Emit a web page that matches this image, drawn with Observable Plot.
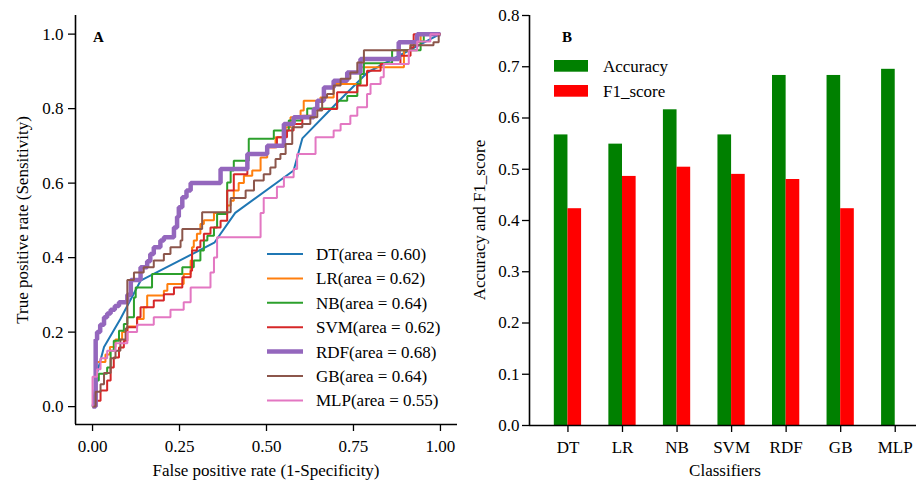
<!DOCTYPE html>
<html>
<head>
<meta charset="utf-8">
<script src="https://cdn.jsdelivr.net/npm/d3@7"></script>
<script src="https://cdn.jsdelivr.net/npm/@observablehq/plot@0.6"></script>
<style>
  html, body { margin: 0; padding: 0; background: white; }
  #wrap { position: relative; width: 916px; height: 482px; overflow: hidden; background: white; }
  #wrap > div, #wrap > svg { position: absolute; top: 0; }
  text { font-family: "Liberation Serif", "Times New Roman", serif; }
</style>
</head>
<body>
<div id="wrap"></div>
<script>
// ---------- Data ----------
const classifiers = ["DT", "LR", "NB", "SVM", "RDF", "GB", "MLP"];
const aucLabels = ["0.60", "0.62", "0.64", "0.62", "0.68", "0.64", "0.55"];
const accuracy = [0.567, 0.549, 0.616, 0.567, 0.683, 0.683, 0.695];
const f1Score = [0.423, 0.486, 0.504, 0.490, 0.480, 0.423, 0];

const rocTicksX = [0, 0.25, 0.5, 0.75, 1];
const rocTicksY = [0, 0.2, 0.4, 0.6, 0.8, 1.0];
const barTicksY = [0, 0.1, 0.2, 0.3, 0.4, 0.5, 0.6, 0.7, 0.8];

// ROC curves (false positive rate, true positive rate)
const dtFpr = [0, 0.013, 0.033, 0.08, 0.138, 0.25, 0.35, 0.41, 0.578, 0.603, 0.70, 0.79, 0.99, 1];
const dtTpr = [0, 0.09, 0.16, 0.235, 0.338, 0.392, 0.44, 0.52, 0.634, 0.72, 0.813, 0.897, 0.996, 1];

const lrFpr = [0, 0.009, 0.037, 0.05, 0.066, 0.085, 0.1, 0.128, 0.147, 0.157, 0.205, 0.215, 0.262, 0.282, 0.286, 0.291, 0.3, 0.31, 0.32, 0.349, 0.387, 0.397, 0.406, 0.42, 0.435, 0.459, 0.483, 0.502, 0.526, 0.555, 0.569, 0.598, 0.607, 0.655, 0.693, 0.77, 0.895, 0.914, 0.943, 1];
const lrTpr = [0, 0.12, 0.14, 0.16, 0.18, 0.2, 0.215, 0.235, 0.267, 0.298, 0.311, 0.329, 0.356, 0.392, 0.428, 0.446, 0.464, 0.49, 0.5, 0.52, 0.54, 0.553, 0.58, 0.6, 0.62, 0.634, 0.669, 0.696, 0.723, 0.75, 0.777, 0.795, 0.821, 0.83, 0.866, 0.911, 0.956, 0.978, 1.0, 1];

const nbFpr = [0, 0.009, 0.018, 0.042, 0.052, 0.061, 0.076, 0.09, 0.1, 0.119, 0.124, 0.171, 0.258, 0.291, 0.31, 0.32, 0.33, 0.349, 0.358, 0.387, 0.397, 0.406, 0.449, 0.521, 0.564, 0.6, 0.617, 0.703, 0.732, 0.761, 0.77, 0.78, 0.861, 0.943, 0.952, 1];
const nbTpr = [0, 0.07, 0.088, 0.105, 0.15, 0.177, 0.204, 0.222, 0.24, 0.293, 0.32, 0.356, 0.374, 0.392, 0.419, 0.446, 0.459, 0.481, 0.517, 0.602, 0.634, 0.66, 0.719, 0.741, 0.768, 0.78, 0.8, 0.821, 0.834, 0.866, 0.893, 0.922, 0.957, 0.98, 1.0, 1];

const svmFpr = [0, 0.009, 0.023, 0.042, 0.052, 0.061, 0.076, 0.09, 0.1, 0.128, 0.138, 0.176, 0.205, 0.234, 0.258, 0.282, 0.286, 0.3, 0.31, 0.32, 0.339, 0.368, 0.387, 0.406, 0.445, 0.502, 0.53, 0.559, 0.578, 0.603, 0.636, 0.703, 0.761, 0.789, 0.828, 0.885, 0.914, 0.923, 1];
const svmTpr = [0, 0.016, 0.043, 0.07, 0.105, 0.132, 0.159, 0.177, 0.213, 0.24, 0.267, 0.285, 0.302, 0.32, 0.347, 0.365, 0.419, 0.428, 0.446, 0.464, 0.481, 0.499, 0.58, 0.624, 0.678, 0.696, 0.723, 0.741, 0.759, 0.781, 0.799, 0.844, 0.862, 0.902, 0.92, 0.942, 0.964, 1.0, 1];

const rdfFpr = [0, 0.009, 0.013, 0.022, 0.033, 0.042, 0.052, 0.064, 0.076, 0.1, 0.11, 0.138, 0.157, 0.166, 0.176, 0.195, 0.205, 0.234, 0.243, 0.248, 0.258, 0.27, 0.282, 0.368, 0.445, 0.502, 0.55, 0.578, 0.636, 0.646, 0.665, 0.693, 0.732, 0.77, 0.88, 0.933, 1];
const rdfTpr = [0, 0.18, 0.2, 0.22, 0.24, 0.25, 0.26, 0.27, 0.28, 0.3, 0.34, 0.374, 0.39, 0.41, 0.428, 0.446, 0.455, 0.481, 0.51, 0.535, 0.562, 0.58, 0.6, 0.638, 0.678, 0.7, 0.759, 0.777, 0.799, 0.821, 0.857, 0.875, 0.897, 0.933, 0.978, 1.0, 1];

const gbFpr = [0, 0.009, 0.023, 0.033, 0.052, 0.066, 0.08, 0.095, 0.1, 0.119, 0.147, 0.176, 0.205, 0.224, 0.253, 0.258, 0.315, 0.397, 0.44, 0.464, 0.492, 0.511, 0.526, 0.54, 0.555, 0.574, 0.603, 0.626, 0.646, 0.66, 0.674, 0.693, 0.713, 0.741, 0.761, 0.78, 0.914, 0.98, 0.995, 1];
const gbTpr = [0, 0.04, 0.06, 0.09, 0.13, 0.15, 0.18, 0.21, 0.34, 0.36, 0.374, 0.392, 0.41, 0.428, 0.446, 0.477, 0.522, 0.56, 0.58, 0.607, 0.624, 0.642, 0.665, 0.678, 0.705, 0.75, 0.759, 0.777, 0.795, 0.83, 0.839, 0.862, 0.88, 0.897, 0.924, 0.957, 0.97, 0.978, 1.0, 1];

const mlpFpr = [0, 0, 0.013, 0.023, 0.042, 0.066, 0.1, 0.128, 0.176, 0.224, 0.262, 0.282, 0.339, 0.349, 0.358, 0.483, 0.492, 0.53, 0.55, 0.578, 0.588, 0.641, 0.693, 0.713, 0.741, 0.761, 0.789, 0.799, 0.828, 0.837, 0.909, 0.933, 0.971, 1];
const mlpTpr = [0, 0.08, 0.1, 0.13, 0.15, 0.17, 0.2, 0.22, 0.24, 0.26, 0.28, 0.32, 0.36, 0.4, 0.455, 0.52, 0.56, 0.59, 0.616, 0.638, 0.678, 0.723, 0.741, 0.759, 0.781, 0.804, 0.839, 0.866, 0.884, 0.92, 0.956, 0.98, 1.0, 1];

// ---------- Build tables ----------
const rocSeries = [
  {name: "DT",  fpr: dtFpr,  tpr: dtTpr,  color: "#1f77b4", width: 2,   curve: "linear"},
  {name: "LR",  fpr: lrFpr,  tpr: lrTpr,  color: "#ff7f0e", width: 2,   curve: "step-after"},
  {name: "NB",  fpr: nbFpr,  tpr: nbTpr,  color: "#2ca02c", width: 2,   curve: "step-after"},
  {name: "SVM", fpr: svmFpr, tpr: svmTpr, color: "#d62728", width: 2,   curve: "step-after"},
  {name: "RDF", fpr: rdfFpr, tpr: rdfTpr, color: "#9467bd", width: 4.5, curve: "step-after"},
  {name: "GB",  fpr: gbFpr,  tpr: gbTpr,  color: "#8c564b", width: 2,   curve: "step-after"},
  {name: "MLP", fpr: mlpFpr, tpr: mlpTpr, color: "#e377c2", width: 2,   curve: "step-after"}
];
const toRows = s => s.fpr.map((x, i) => ({x, y: s.tpr[i]}));

const font = '"Liberation Serif", "Times New Roman", serif';
const baseStyle = {fontFamily: font, fontSize: "17px", color: "black", background: "white", overflow: "visible"};

// ---------- Panel A ----------
const xDomA = [-0.049, 1.049];
const yDomA = [-0.048, 1.05];
const plotA = Plot.plot({
  width: 460, height: 482,
  marginLeft: 75, marginTop: 15, marginBottom: 58, marginRight: 3,
  x: {domain: xDomA},
  y: {domain: yDomA},
  style: baseStyle,
  marks: [
    Plot.axisX({ticks: rocTicksX, tickFormat: d3.format(".2f"), tickSize: 7, tickPadding: 8, label: null, strokeWidth: 1.3}),
    Plot.axisY({ticks: rocTicksY, tickFormat: d3.format(".1f"), tickSize: 7, tickPadding: 5, label: null, strokeWidth: 1.3}),
    ...rocSeries.map(s => Plot.line(toRows(s), {x: "x", y: "y", stroke: s.color, strokeWidth: s.width, curve: s.curve, strokeLinejoin: "miter", strokeLinecap: "butt"})),
    Plot.ruleX([xDomA[0]], {strokeWidth: 1.6}),
    Plot.ruleY([yDomA[0]], {strokeWidth: 1.6})
  ]
});
plotA.style.left = "0px";
document.getElementById("wrap").appendChild(plotA);

// ---------- Panel B ----------
const xDomB = [-0.705, 6.39];
const yDomB = [0, 0.8];
const barW = 0.25;
const accRows = classifiers.map((c, i) => ({i, v: accuracy[i]}));
const f1Rows = classifiers.map((c, i) => ({i, v: f1Score[i]})).filter(d => d.v > 0);
const plotB = Plot.plot({
  width: 456, height: 482,
  marginLeft: 69, marginTop: 15, marginBottom: 57, marginRight: 0,
  x: {domain: xDomB},
  y: {domain: yDomB},
  style: baseStyle,
  marks: [
    Plot.rect(accRows, {x1: d => d.i - barW, x2: d => d.i, y1: 0, y2: "v", fill: "#008000"}),
    Plot.rect(f1Rows, {x1: d => d.i, x2: d => d.i + barW, y1: 0, y2: "v", fill: "#ff0000"}),
    Plot.axisX({ticks: d3.range(classifiers.length), tickFormat: i => classifiers[i], tickSize: 7, tickPadding: 8, label: null, strokeWidth: 1.3}),
    Plot.axisY({ticks: barTicksY, tickFormat: d3.format(".1f"), tickSize: 7, tickPadding: 3, label: null, strokeWidth: 1.3}),
    Plot.ruleX([xDomB[0]], {strokeWidth: 1.6}),
    Plot.ruleY([yDomB[0]], {strokeWidth: 1.6})
  ]
});
plotB.style.left = "460px";
document.getElementById("wrap").appendChild(plotB);

// ---------- Annotations, legends, axis titles ----------
function addText(svg, txt, x, y, opts = {}) {
  const t = d3.select(svg).append("text")
    .attr("x", x).attr("y", y)
    .attr("fill", "black")
    .attr("font-family", font)
    .attr("font-size", opts.size || 17)
    .attr("font-weight", opts.weight || "normal")
    .attr("text-anchor", opts.anchor || "start")
    .attr("dominant-baseline", opts.baseline || "auto")
    .text(txt);
  if (opts.rotate) t.attr("transform", `rotate(${opts.rotate},${x},${y})`);
  return t;
}
const svgA = plotA.tagName.toLowerCase() === "svg" ? plotA : plotA.querySelector("svg");
const svgB = plotB.tagName.toLowerCase() === "svg" ? plotB : plotB.querySelector("svg");

addText(svgA, "A", 93, 42, {size: 15, weight: "bold"});
addText(svgA, "False positive rate (1-Specificity)", 266, 476, {anchor: "middle"});
addText(svgA, "True positive rate (Sensitivity)", 28, 220, {anchor: "middle", rotate: -90});

const legA = d3.select(svgA).append("g");
rocSeries.forEach((s, i) => {
  const cy = 254 + i * 24.4;
  legA.append("line").attr("x1", 267).attr("x2", 303).attr("y1", cy).attr("y2", cy)
    .attr("stroke", s.color).attr("stroke-width", s.width);
  addText(svgA, `${classifiers[i]}(area = ${aucLabels[i]})`, 316, cy + 6);
});

addText(svgB, "B", 102, 41.5, {size: 15, weight: "bold"});
addText(svgB, "Classifiers", 265, 476, {anchor: "middle"});
addText(svgB, "Accuracy and F1_score", 25, 220, {anchor: "middle", rotate: -90});

const legB = [{label: "Accuracy", color: "#008000"}, {label: "F1_score", color: "#ff0000"}];
legB.forEach((d, i) => {
  const top = 60 + i * 25;
  d3.select(svgB).append("rect").attr("x", 94).attr("y", top).attr("width", 34).attr("height", 11.7).attr("fill", d.color);
  addText(svgB, d.label, 143, top + 12);
});
</script>
</body>
</html>
